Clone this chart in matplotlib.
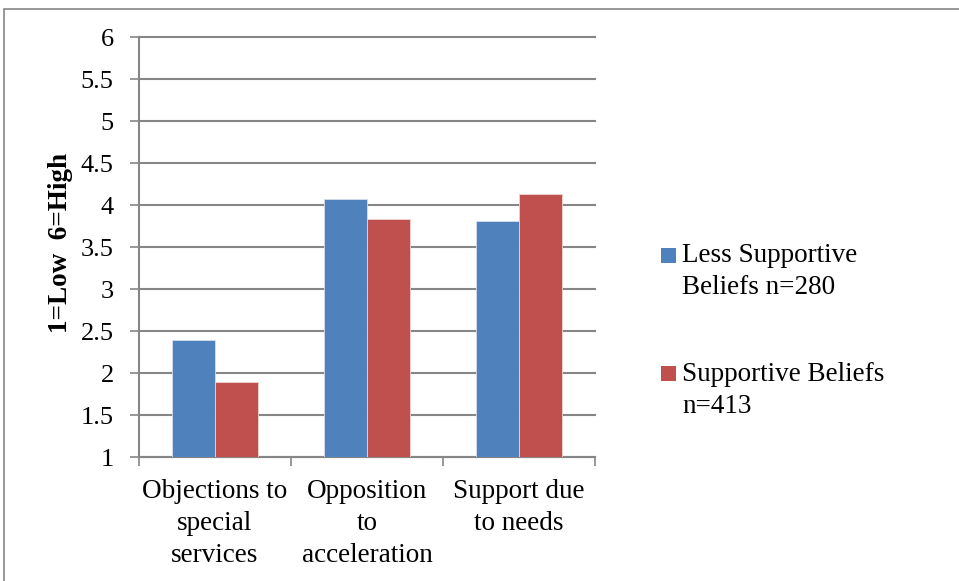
import matplotlib
matplotlib.use("Agg")
import matplotlib.pyplot as plt
from matplotlib.patches import Rectangle
import numpy as np

categories = ["Objections to\nspecial\nservices", "Opposition\nto\nacceleration", "Support due\nto needs"]
series_names = ["Less Supportive\nBeliefs n=280", "Supportive Beliefs\nn=413"]
less_supportive = [2.40, 4.08, 3.81]
supportive = [1.89, 3.84, 4.13]
colors = ["#4F81BD", "#C0504D"]
yticks = [1, 1.5, 2, 2.5, 3, 3.5, 4, 4.5, 5, 5.5, 6]
ytick_labels = ["1", "1.5", "2", "2.5", "3", "3.5", "4", "4.5", "5", "5.5", "6"]

plt.rcParams['font.family'] = ['Liberation Serif', 'DejaVu Serif']

W, H = 959, 581
fig = plt.figure(figsize=(W / 100, H / 100), dpi=100)

# outer frame (cut off at right/bottom)
fig.patches.append(Rectangle((4 / W, -0.1), 1.2, 1 - 8.5 / H + 0.1, transform=fig.transFigure,
                             fill=False, edgecolor="#868686", linewidth=1.2, zorder=0))

left, right, top, bottom = 139, 595, 37.5, 457
ax = fig.add_axes([left / W, 1 - bottom / H, (right - left) / W, (bottom - top) / H])

x = np.arange(len(categories))
bw = 0.283
ax.bar(x - bw / 2, np.array(less_supportive) - 1, bw, bottom=1, color=colors[0],
       edgecolor="#D6E0EE", linewidth=0.6, zorder=3)
ax.bar(x + bw / 2, np.array(supportive) - 1, bw, bottom=1, color=colors[1],
       edgecolor="#EFD3D2", linewidth=0.6, zorder=3)

ax.set_xlim(-0.5, len(categories) - 0.5)
ax.set_ylim(1, 6)
ax.set_yticks(yticks)
ax.set_yticklabels(ytick_labels, fontsize=19)
ax.yaxis.grid(True, color="#868686", linewidth=1.5, zorder=0)
for gl in ax.get_ygridlines():
    gl.set_clip_on(False)
ax.set_axisbelow(True)

ax.set_xticks(x)
ax.set_xticklabels(categories, fontsize=19.5, linespacing=1.36)
ax.tick_params(axis="x", length=0, pad=16)
ax.set_xticks(np.arange(-0.5, len(categories)), minor=True)
ax.tick_params(axis="x", which="minor", length=6.2, width=1.2, color="#868686", direction="out")
ax.tick_params(axis="y", length=6.2, width=1.2, color="#868686", direction="out", pad=12)

for s in ["top", "right"]:
    ax.spines[s].set_visible(False)
for s in ["left", "bottom"]:
    ax.spines[s].set_color("#868686")
    ax.spines[s].set_linewidth(1.5)

ax.set_ylabel("1=Low  6=High", fontsize=19.5, fontweight="bold")
ax.yaxis.set_label_coords(-0.172, 0.51)
ax.yaxis.label.set_verticalalignment("center")

# legend: square aligned with first text line, as in the reference
square_top = [248, 366]      # pixels from top
last_baseline = [293.5, 412.7]
for name, col, st, lb in zip(series_names, colors, square_top, last_baseline):
    fig.patches.append(Rectangle((661 / W, 1 - (st + 14.5) / H), 15 / W, 14.5 / H,
                                 transform=fig.transFigure, facecolor=col, edgecolor="none"))
    fig.text(682 / W, 1 - lb / H, name, fontsize=19.5, ha="left", va="baseline",
             linespacing=1.36)

fig.savefig("out.png", dpi=100)
